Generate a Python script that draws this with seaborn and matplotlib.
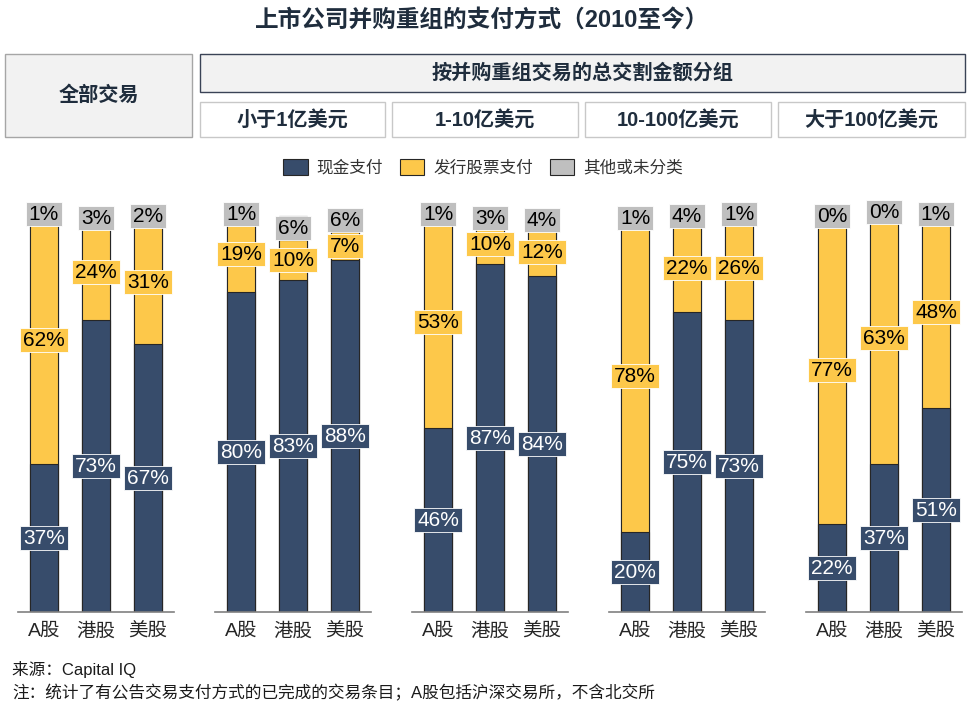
import numpy as np
import pandas as pd
import seaborn as sns
import matplotlib.pyplot as plt
from matplotlib.patches import Rectangle, Patch

# ---- data ----
markets = ['A股', '港股', '美股']
groups = ['全部交易', '小于1亿美元', '1-10亿美元', '10-100亿美元', '大于100亿美元']
cash = [[37, 73, 67], [80, 83, 88], [46, 87, 84], [20, 75, 73], [22, 37, 51]]
stock = [[62, 24, 31], [19, 10, 7], [53, 10, 12], [78, 22, 26], [77, 63, 48]]
other = [[1, 3, 2], [1, 6, 6], [1, 3, 4], [1, 4, 1], [0, 0, 1]]
series_names = ['现金支付', '发行股票支付', '其他或未分类']

# ---- style ----
sns.set_style('white')
plt.rcParams['font.family'] = ['Liberation Sans', 'Noto Sans CJK SC', 'DejaVu Sans']

NAVY = '#374c6b'
YELLOW = '#fdc84a'
GREY = '#bfbfbf'
EDGE = '#262626'
TITLE_C = '#1f2d3d'

W, H = 972, 715
fig = plt.figure(figsize=(W / 100, H / 100), dpi=100)


def fx(px):
    return px / W


def fy(py):
    return 1 - py / H


# ---- title ----
fig.text(fx(482), fy(20), '上市公司并购重组的支付方式（2010至今）', ha='center', va='center',
         fontsize=17, fontweight='bold', color=TITLE_C)

# ---- header boxes ----
def box(x0, y0, x1, y1, fc, ec, txt, lw=1.0):
    fig.patches.append(Rectangle((fx(x0), fy(y1)), fx(x1 - x0), (y1 - y0) / H,
                                 transform=fig.transFigure, facecolor=fc, edgecolor=ec, lw=lw))
    fig.text(fx((x0 + x1) / 2), fy((y0 + y1) / 2), txt, ha='center', va='center',
             fontsize=14.5, fontweight='bold', color=TITLE_C)

box(5, 54, 192, 137, '#f2f2f2', '#a6a6a6', groups[0])
box(200, 54, 965, 92, '#f2f2f2', '#3a4356', '按并购重组交易的总交割金额分组')
sub_x = [(200, 385), (392, 578), (585, 771), (778, 965)]
for (x0, x1), g in zip(sub_x, groups[1:]):
    box(x0, 102, x1, 137, 'white', '#c8c8c8', g)

# ---- legend ----
handles = [Patch(facecolor=c, edgecolor=EDGE, lw=0.8) for c in (NAVY, YELLOW, GREY)]
leg = fig.legend(handles, series_names, loc='center', bbox_to_anchor=(fx(483), fy(167)),
                 ncol=3, frameon=False, fontsize=12, handlelength=1.45, handleheight=1.1,
                 handletextpad=0.55, columnspacing=1.0)
for t in leg.get_texts():
    t.set_color('#333333')

# ---- panels ----
lefts = [18, 215, 412, 609, 806]
for k, left in enumerate(lefts):
    ax = fig.add_axes([fx(left), fy(612), fx(156), 400 / H])
    c = np.array(cash[k])
    s = np.array(stock[k])
    o = np.array(other[k])
    df = pd.DataFrame({'market': markets, 'cash': c, 'cs': c + s, 'tot': c + s + o})
    # draw cumulative totals back to front
    for col, color in (('tot', GREY), ('cs', YELLOW), ('cash', NAVY)):
        sns.barplot(data=df, x='market', y=col, order=markets, color=color, width=0.54,
                    edgecolor=EDGE, linewidth=0.8, saturation=1, ax=ax)
    for i in range(3):
        segs = [(0, c[i], NAVY, 'white'), (c[i], c[i] + s[i], YELLOW, 'black'),
                (c[i] + s[i], c[i] + s[i] + o[i], GREY, 'black')]
        for lo, hi, fc, tc in segs:
            ax.text(i, (lo + hi) / 2, f'{hi - lo}%', ha='center', va='center', fontsize=15,
                    color=tc, bbox=dict(boxstyle='square,pad=0.14', facecolor=fc,
                                        edgecolor='white', lw=0.6))
    ax.set_ylim(0, 100)
    ax.set_xlim(-0.5, 2.5)
    ax.set_xlabel('')
    ax.set_ylabel('')
    ax.set_yticks([])
    ax.tick_params(axis='x', length=0, pad=8, labelsize=14)
    for sp in ('top', 'left', 'right'):
        ax.spines[sp].set_visible(False)
    ax.spines['bottom'].set_color('#808080')
    ax.spines['bottom'].set_linewidth(1.2)
    ax.patch.set_alpha(0)

# ---- footer ----
fig.text(fx(12), fy(670), '来源：Capital IQ', ha='left', va='center', fontsize=12, color='#1a1a1a')
fig.text(fx(12), fy(693), '注：统计了有公告交易支付方式的已完成的交易条目；A股包括沪深交易所，不含北交所',
         ha='left', va='center', fontsize=12, color='#1a1a1a')

fig.savefig('out.png', dpi=100)
